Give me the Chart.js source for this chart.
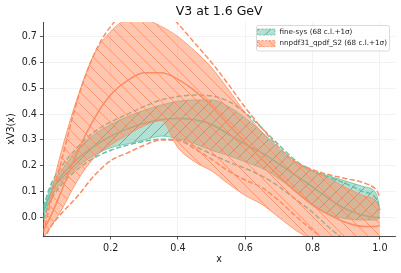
<!DOCTYPE html>
<html>
<head>
<meta charset="utf-8">
<script src="https://cdn.jsdelivr.net/npm/chart.js@4.4.0/dist/chart.umd.min.js"></script>
<style>
  html, body { margin: 0; padding: 0; background: #fff; }
</style>
</head>
<body>
<canvas id="v3Chart" width="401" height="273"></canvas>
<script>
// x grid shared by every curve
const xs = [0, 0.02, 0.05, 0.1, 0.15, 0.2, 0.25, 0.3, 0.35, 0.4, 0.45, 0.5, 0.55, 0.6, 0.65, 0.7, 0.75, 0.8, 0.85, 0.9, 0.95, 0.99, 1.0];

// fine-sys
const fineCentral = [0.02, 0.09, 0.155, 0.225, 0.275, 0.315, 0.343, 0.365, 0.378, 0.383, 0.378, 0.36, 0.322, 0.283, 0.25, 0.207, 0.163, 0.118, 0.072, 0.032, 0.008, 0.0, 0.0];
const fineUpper = [0.03, 0.11, 0.175, 0.26, 0.32, 0.36, 0.39, 0.415, 0.435, 0.45, 0.455, 0.455, 0.43, 0.385, 0.33, 0.27, 0.215, 0.18, 0.16, 0.14, 0.12, 0.09, 0.03];
const fineLower = [0.0, 0.07, 0.13, 0.195, 0.24, 0.27, 0.285, 0.3, 0.315, 0.305, 0.285, 0.26, 0.24, 0.215, 0.19, 0.15, 0.1, 0.045, 0.01, -0.005, -0.01, -0.01, 0.0];
const fineSigUp = [0.04, 0.12, 0.19, 0.27, 0.33, 0.37, 0.4, 0.43, 0.455, 0.468, 0.474, 0.47, 0.45, 0.405, 0.345, 0.28, 0.22, 0.18, 0.155, 0.13, 0.1, 0.07, 0.03];
const fineSigLo = [-0.01, 0.06, 0.12, 0.185, 0.23, 0.26, 0.28, 0.295, 0.303, 0.298, 0.275, 0.245, 0.215, 0.19, 0.16, 0.12, 0.07, 0.02, -0.04, -0.09, -0.13, -0.16, -0.17];

// nnpdf31_qpdf_S2
const nnCentral = [-0.05, 0.0, 0.09, 0.25, 0.38, 0.475, 0.53, 0.56, 0.56, 0.535, 0.49, 0.43, 0.36, 0.29, 0.225, 0.16, 0.1, 0.05, 0.01, -0.02, -0.035, -0.035, -0.03];
const nnUpper = [-0.03, 0.08, 0.24, 0.46, 0.63, 0.72, 0.765, 0.765, 0.74, 0.70, 0.645, 0.58, 0.495, 0.405, 0.33, 0.26, 0.21, 0.18, 0.15, 0.115, 0.085, 0.06, 0.03];
const nnLower = [-0.08, -0.04, 0.02, 0.14, 0.23, 0.28, 0.32, 0.355, 0.375, 0.27, 0.215, 0.18, 0.13, 0.085, 0.05, 0.0, -0.05, -0.09, -0.13, -0.17, -0.2, -0.22, -0.22];
const nnSigUp = [-0.06, 0.05, 0.2, 0.45, 0.63, 0.74, 0.8, 0.83, 0.81, 0.75, 0.675, 0.6, 0.515, 0.425, 0.345, 0.27, 0.215, 0.185, 0.165, 0.15, 0.135, 0.105, 0.08];
const nnSigLo = [-0.09, -0.04, 0.01, 0.08, 0.16, 0.22, 0.25, 0.28, 0.3, 0.3, 0.265, 0.225, 0.18, 0.145, 0.115, 0.065, 0.005, -0.05, -0.1, -0.15, -0.19, -0.22, -0.22];

const xTicks = [0.2, 0.4, 0.6, 0.8, 1.0];
const yTicks = [0.0, 0.1, 0.2, 0.3, 0.4, 0.5, 0.6, 0.7];
const legendLabels = ['fine-sys (68 c.l.+1\u03c3)', 'nnpdf31_qpdf_S2 (68 c.l.+1\u03c3)'];

const green = '#66c2a5';
const orange = '#fc8d62';

Chart.defaults.font.family = "'DejaVu Sans', sans-serif";
Chart.defaults.color = '#222';

const canvas = document.getElementById('v3Chart');
const ctx = canvas.getContext('2d');

// hatched fill like matplotlib's '/' and '\\'
function hatch(base, line, dir) {
    const s = 12;
    const c = document.createElement('canvas');
    c.width = s; c.height = s;
    const g = c.getContext('2d');
    g.fillStyle = base;
    g.fillRect(0, 0, s, s);
    g.strokeStyle = line;
    g.lineWidth = 0.9;
    g.beginPath();
    if (dir === '/') {
        g.moveTo(-1, s + 1); g.lineTo(s + 1, -1);
        g.moveTo(-1, 1); g.lineTo(1, -1);
        g.moveTo(s - 1, s + 1); g.lineTo(s + 1, s - 1);
    } else {
        g.moveTo(-1, -1); g.lineTo(s + 1, s + 1);
        g.moveTo(s - 1, -1); g.lineTo(s + 1, 1);
        g.moveTo(-1, s - 1); g.lineTo(1, s + 1);
    }
    g.stroke();
    return ctx.createPattern(c, 'repeat');
}

const greenFill = hatch('rgba(102,194,165,0.5)', 'rgba(60,100,85,0.55)', '/');
const orangeFill = hatch('rgba(252,141,98,0.5)', 'rgba(252,141,98,0.9)', '\\');

function pts(ys) {
    return xs.map((x, i) => ({ x: x, y: ys[i] }));
}

function line(ys, color, opts) {
    return Object.assign({
        data: pts(ys),
        borderColor: color,
        borderWidth: 1.5,
        pointRadius: 0,
        fill: false,
        cubicInterpolationMode: 'monotone',
        clip: 0
    }, opts);
}

const datasets = [
    line(fineLower, green, { borderWidth: 0.8, order: 20 }),
    line(fineUpper, green, { borderWidth: 0.8, order: 20, fill: '-1', backgroundColor: greenFill }),
    line(fineCentral, green, { order: 19 }),
    line(fineSigUp, green, { order: 19, borderDash: [5.3, 2.3] }),
    line(fineSigLo, green, { order: 19, borderDash: [5.3, 2.3] }),
    line(nnLower, orange, { borderWidth: 0.8, order: 18 }),
    line(nnUpper, orange, { borderWidth: 0.8, order: 18, fill: '-1', backgroundColor: orangeFill }),
    line(nnCentral, orange, { order: 17 }),
    line(nnSigUp, orange, { order: 17, borderDash: [5.3, 2.3] }),
    line(nnSigLo, orange, { order: 17, borderDash: [5.3, 2.3] })
];

// matplotlib style legend box in the upper right
const legendBox = {
    id: 'legendBox',
    afterDraw(chart) {
        const c = chart.ctx;
        const x0 = 256.5, y0 = 25.5, w = 133, h = 25.5;
        c.save();
        c.fillStyle = 'rgba(255,255,255,0.8)';
        c.strokeStyle = '#d0d0d0';
        c.lineWidth = 0.8;
        c.beginPath();
        c.roundRect(x0, y0, w, h, 2);
        c.fill();
        c.stroke();
        const fills = [greenFill, orangeFill];
        const cols = [green, orange];
        c.font = "7.2px 'DejaVu Sans'";
        c.textBaseline = 'middle';
        legendLabels.forEach((lab, i) => {
            const ry = y0 + 6.5 + i * 11.6;
            c.fillStyle = fills[i];
            c.fillRect(x0 + 1, ry - 3, 17.5, 6);
            c.setLineDash([2.5, 1.2]);
            c.strokeStyle = cols[i];
            c.lineWidth = 0.8;
            c.strokeRect(x0 + 1, ry - 3, 17.5, 6);
            c.setLineDash([]);
            c.fillStyle = '#222';
            c.fillText(lab, x0 + 23, ry);
        });
        c.restore();
    }
};

new Chart(ctx, {
    type: 'line',
    data: { datasets: datasets },
    options: {
        responsive: false,
        animation: false,
        layout: { padding: { left: 0, right: 6, top: 0, bottom: 0 } },
        plugins: {
            legend: { display: false },
            tooltip: { enabled: false },
            title: {
                display: true,
                fullSize: false,
                text: 'V3 at 1.6 GeV',
                font: { size: 12.5, weight: 'normal' },
                color: '#111',
                padding: { top: 4, bottom: 3 }
            }
        },
        scales: {
            x: {
                type: 'linear',
                min: 0,
                max: 1.045,
                afterBuildTicks: s => { s.ticks = xTicks.map(v => ({ value: v })); },
                afterFit: s => { s.height = 37; },
                ticks: {
                    callback: v => v.toFixed(1),
                    font: { size: 9.6 },
                    color: '#222',
                    padding: 3,
                    maxRotation: 0
                },
                grid: { color: '#efefef', lineWidth: 0.8, tickColor: '#333', tickLength: 3.5 },
                border: { color: '#333', width: 0.9 },
                title: { display: true, text: 'x', font: { size: 9.6 }, color: '#111', padding: { top: 0, bottom: 7.7 } }
            },
            y: {
                min: -0.072,
                max: 0.757,
                afterBuildTicks: s => { s.ticks = yTicks.map(v => ({ value: v })); },
                afterFit: s => { s.width = 43.4; },
                ticks: {
                    callback: v => v.toFixed(1),
                    font: { size: 9.6 },
                    color: '#222',
                    padding: 3
                },
                grid: { color: '#efefef', lineWidth: 0.8, tickColor: '#333', tickLength: 3.5 },
                border: { color: '#333', width: 0.9 },
                title: { display: true, text: 'xV3(x)', font: { size: 9.6 }, color: '#111', padding: { top: 6, bottom: 0 } }
            }
        }
    },
    plugins: [legendBox]
});
</script>
</body>
</html>
